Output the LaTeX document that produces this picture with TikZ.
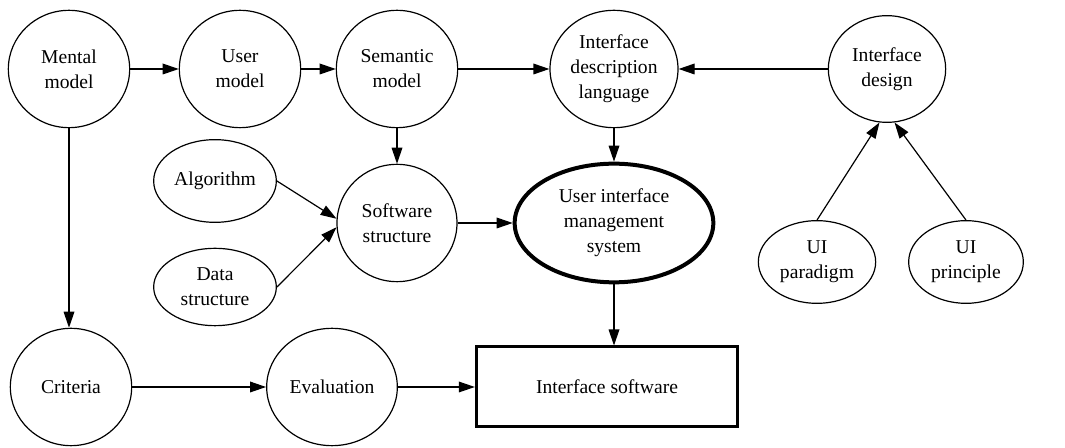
\documentclass[tikz,border=0pt]{standalone}
\usepackage{fontspec}
\setmainfont{Liberation Serif}
\usetikzlibrary{shapes.geometric,arrows.meta}

\tikzstyle{bubble}=[ellipse,draw,line width=0.9pt,inner sep=0pt,align=center,
    minimum width=91pt,minimum height=88pt,font=\rmfamily\fontsize{14.7}{18.75}\selectfont]
\tikzstyle{small bubble}=[bubble,minimum width=92pt,minimum height=60pt]
\tikzstyle{edge} = [draw,line width=0.9pt,-{Triangle[length=12pt,width=8pt]}]

\begin{document}
\begin{tikzpicture}[x=0.75pt,y=-0.75pt]
    \useasboundingbox (0,0) rectangle (1065,448);

    % top row
    \node[bubble] (mental) at (69,69) {Mental\\model};
    \node[bubble] (user) at (240,69) {User\\model};
    \node[bubble] (semantic) at (397,69) {Semantic\\model};
    \node[bubble,minimum width=96pt] (idl) at (614,69) {Interface\\description\\language};
    \node[bubble,minimum width=88pt,minimum height=80pt] (design) at (887,69) {Interface\\design};

    % middle
    \node[small bubble,minimum height=62pt] (algo) at (215,181) {Algorithm};
    \node[small bubble,minimum height=58pt] (data) at (215,287) {Data\\structure};
    \node[bubble,minimum width=90pt] (soft) at (397,223) {Software\\structure};
    \node[bubble,minimum width=149pt,minimum height=89pt,line width=3pt] (uims) at (614,223)
        {User interface\\management\\system};
    \node[small bubble,minimum width=88pt,minimum height=62pt] (paradigm) at (817,262) {UI\\paradigm};
    \node[small bubble,minimum width=86pt,minimum height=62pt] (principle) at (966,262) {UI\\principle};

    % bottom row
    \node[bubble] (criteria) at (71,387) {Criteria};
    \node[bubble,minimum width=98pt] (eval) at (332,387) {Evaluation};
    \node[draw,line width=2.25pt,minimum width=196pt,minimum height=60pt,
        font=\rmfamily\fontsize{14.7}{18.75}\selectfont] (isw) at (607,387) {Interface software};

    \foreach \source/\dest in {mental/user, user/semantic, semantic/idl, design/idl,
                               semantic/soft, idl/uims, soft/uims, criteria/eval, eval/isw}
        \path[edge] (\source) -- (\dest);

    \path[edge] (mental) -- (mental |- criteria.north);
    \path[edge] (uims) -- (uims |- isw.north);
    \path[edge] (algo.east) -- (soft.176);
    \path[edge] (data.east) -- (soft.184);
    \path[edge] (paradigm.north) -- (design.-98);
    \path[edge] (principle.north) -- (design.-82);
\end{tikzpicture}
\end{document}
